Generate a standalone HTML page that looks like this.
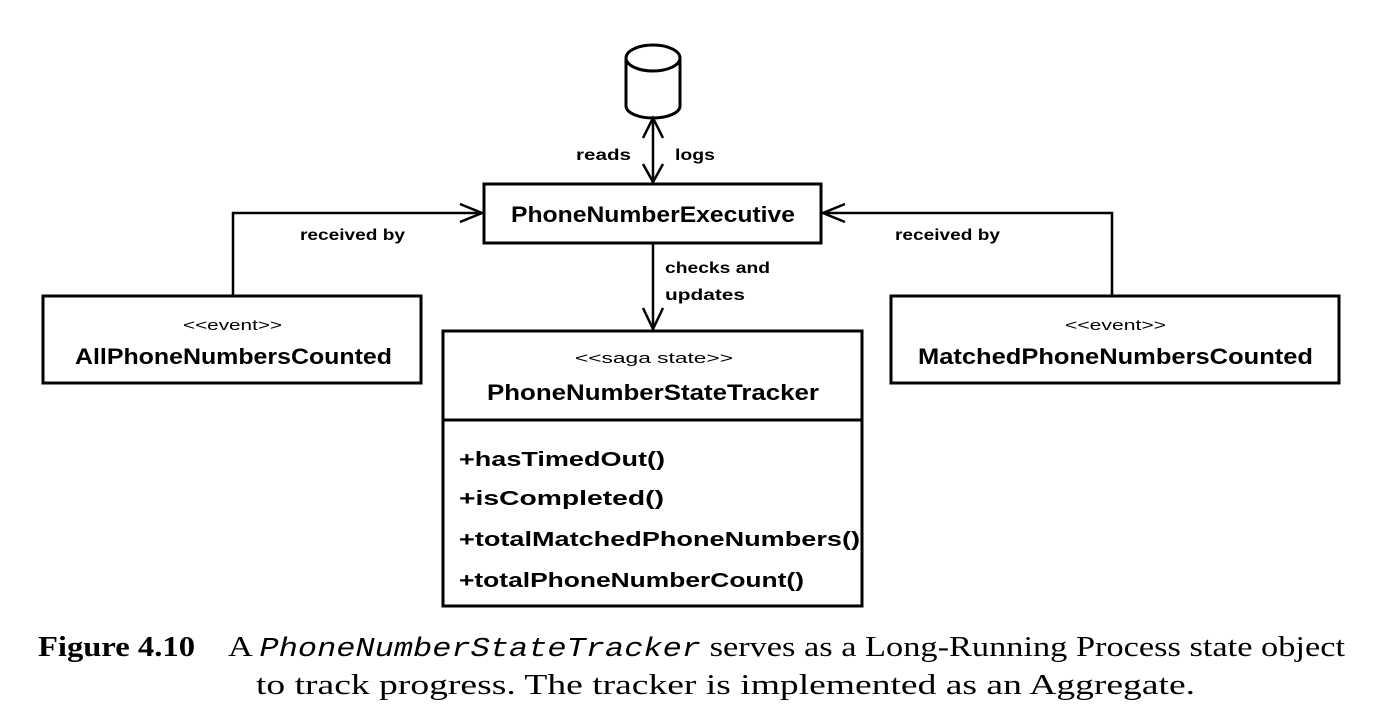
<!DOCTYPE html>
<html><head><style>
html,body{margin:0;padding:0;background:#fff;width:1380px;height:726px;overflow:hidden}
</style></head><body>
<svg width="1380" height="726" xmlns="http://www.w3.org/2000/svg" font-family="'Liberation Sans', sans-serif">
<g fill="none" stroke="#000" stroke-width="3">
<path d="M626,58 L626,106 A27,12 0 0 0 680,106 L680,58"/>
<ellipse cx="653" cy="58" rx="27" ry="13"/>
<line x1="653" y1="120" x2="653" y2="182" stroke-width="2.5"/>
<polyline points="643,138 653,118 663,138" stroke-width="2.5"/>
<polyline points="643,164 653,182 663,164" stroke-width="2.5"/>
<rect x="484" y="184" width="337" height="59"/>
<polyline points="233,295 233,213 482,213" stroke-width="2.5"/>
<polyline points="460,204 482,213 460,222" stroke-width="2.5"/>
<polyline points="1112,295 1112,213 823,213" stroke-width="2.5"/>
<polyline points="845,204 823,213 845,222" stroke-width="2.5"/>
<line x1="653" y1="243" x2="653" y2="329" stroke-width="2.5"/>
<polyline points="643,308 653,329 663,308" stroke-width="2.5"/>
<rect x="443" y="331" width="419" height="275"/>
<line x1="443" y1="420" x2="862" y2="420"/>
<rect x="43" y="296" width="378" height="87"/>
<rect x="891" y="296" width="448" height="87"/>
</g>
<g fill="#000" font-weight="bold" lengthAdjust="spacingAndGlyphs">
<text x="576" y="160" font-size="16" textLength="55" lengthAdjust="spacingAndGlyphs">reads</text>
<text x="675" y="160" font-size="16" textLength="40" lengthAdjust="spacingAndGlyphs">logs</text>
<text x="511" y="222" font-size="22" textLength="284" lengthAdjust="spacingAndGlyphs">PhoneNumberExecutive</text>
<text x="300" y="240" font-size="16" textLength="105" lengthAdjust="spacingAndGlyphs">received by</text>
<text x="895" y="240" font-size="16" textLength="105" lengthAdjust="spacingAndGlyphs">received by</text>
<text x="665" y="273" font-size="16" textLength="105" lengthAdjust="spacingAndGlyphs">checks and</text>
<text x="665" y="300" font-size="16" textLength="80" lengthAdjust="spacingAndGlyphs">updates</text>
<text x="575" y="363" font-size="15" font-weight="normal" textLength="158" lengthAdjust="spacingAndGlyphs">&lt;&lt;saga state&gt;&gt;</text>
<text x="487" y="400" font-size="22" textLength="332" lengthAdjust="spacingAndGlyphs">PhoneNumberStateTracker</text>
<text x="459" y="466" font-size="20" textLength="206" lengthAdjust="spacingAndGlyphs">+hasTimedOut()</text>
<text x="459" y="505" font-size="20" textLength="205" lengthAdjust="spacingAndGlyphs">+isCompleted()</text>
<text x="459" y="546" font-size="20" textLength="401" lengthAdjust="spacingAndGlyphs">+totalMatchedPhoneNumbers()</text>
<text x="459" y="587" font-size="20" textLength="345" lengthAdjust="spacingAndGlyphs">+totalPhoneNumberCount()</text>
<text x="183" y="330" font-size="15" font-weight="normal" textLength="99" lengthAdjust="spacingAndGlyphs">&lt;&lt;event&gt;&gt;</text>
<text x="75" y="364" font-size="22" textLength="317" lengthAdjust="spacingAndGlyphs">AllPhoneNumbersCounted</text>
<text x="1065" y="330" font-size="15" font-weight="normal" textLength="101" lengthAdjust="spacingAndGlyphs">&lt;&lt;event&gt;&gt;</text>
<text x="918" y="364" font-size="22" textLength="395" lengthAdjust="spacingAndGlyphs">MatchedPhoneNumbersCounted</text>
</g>
<g font-family="'Liberation Serif', serif" font-size="29" fill="#000">
<text x="38" y="656" font-weight="bold" textLength="157" lengthAdjust="spacingAndGlyphs">Figure 4.10</text>
<text x="228" y="656" textLength="1117" lengthAdjust="spacingAndGlyphs">A <tspan font-family="'Liberation Mono', monospace" font-style="italic" font-size="27">PhoneNumberStateTracker</tspan> serves as a Long-Running Process state object</text>
<text x="256" y="694" textLength="939" lengthAdjust="spacingAndGlyphs">to track progress. The tracker is implemented as an Aggregate.</text>
</g>
</svg>
</body></html>
